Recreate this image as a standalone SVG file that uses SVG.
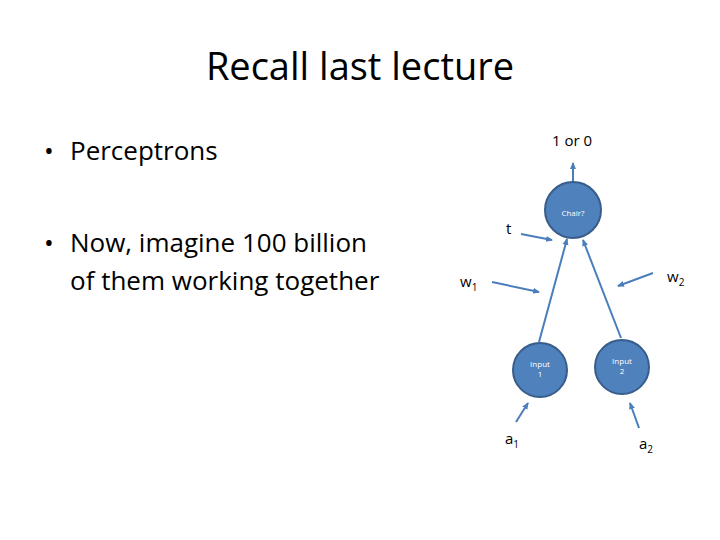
<svg xmlns="http://www.w3.org/2000/svg" width="720" height="540" viewBox="0 0 720 540">
<defs>
<style>
text{font-family:"Open Sans","Noto Sans",sans-serif;fill:#000}
.n{fill:#4f81bd;stroke:#385d8a;stroke-width:2}
.nt{fill:#fff;font-size:8px;text-anchor:middle}
.c line{stroke:#4a7ebb;stroke-width:2;marker-end:url(#a)}
.l{font-size:15px}
.s{font-size:10px}
</style>
<marker id="a" markerWidth="8" markerHeight="8" refX="6" refY="4" orient="auto" markerUnits="userSpaceOnUse"><path d="M0,1 L7,4 L0,7 z" fill="#4a7ebb"/></marker>
</defs>
<rect width="720" height="540" fill="#fff"/>
<text x="360" y="80" font-size="38" text-anchor="middle">Recall last lecture</text>
<text x="44" y="160" font-size="26">•</text>
<text x="70" y="160" font-size="26">Perceptrons</text>
<text x="44" y="252" font-size="26">•</text>
<text x="70" y="252" font-size="26">Now, imagine 100 billion</text>
<text x="70" y="290" font-size="26">of them working together</text>
<g class="c">
<line x1="573" y1="181" x2="573" y2="163"/>
<line x1="521" y1="234" x2="552" y2="240"/>
<line x1="539" y1="342" x2="567" y2="239"/>
<line x1="621" y1="338" x2="583" y2="240"/>
<line x1="492" y1="282" x2="539" y2="292"/>
<line x1="653" y1="273" x2="618" y2="286"/>
<line x1="516" y1="422" x2="528" y2="403"/>
<line x1="639" y1="428" x2="630" y2="403"/>
</g>
<g id="chair"><circle class="n" cx="573" cy="210" r="28"/><text class="nt" x="573" y="216">Chair?</text></g>
<g id="input1"><circle class="n" cx="540" cy="370" r="27"/><text class="nt" x="540" y="367">Input</text><text class="nt" x="540" y="377">1</text></g>
<g id="input2"><circle class="n" cx="622" cy="367" r="27"/><text class="nt" x="622" y="364">Input</text><text class="nt" x="622" y="374">2</text></g>
<text class="l" x="572" y="146" text-anchor="middle">1 or 0</text>
<text class="l" x="506" y="234">t</text>
<text class="l" x="460" y="287">w<tspan class="s" dy="4">1</tspan></text>
<text class="l" x="667" y="282">w<tspan class="s" dy="4">2</tspan></text>
<text class="l" x="505" y="444">a<tspan class="s" dy="4">1</tspan></text>
<text class="l" x="639" y="449">a<tspan class="s" dy="4">2</tspan></text>
</svg>
